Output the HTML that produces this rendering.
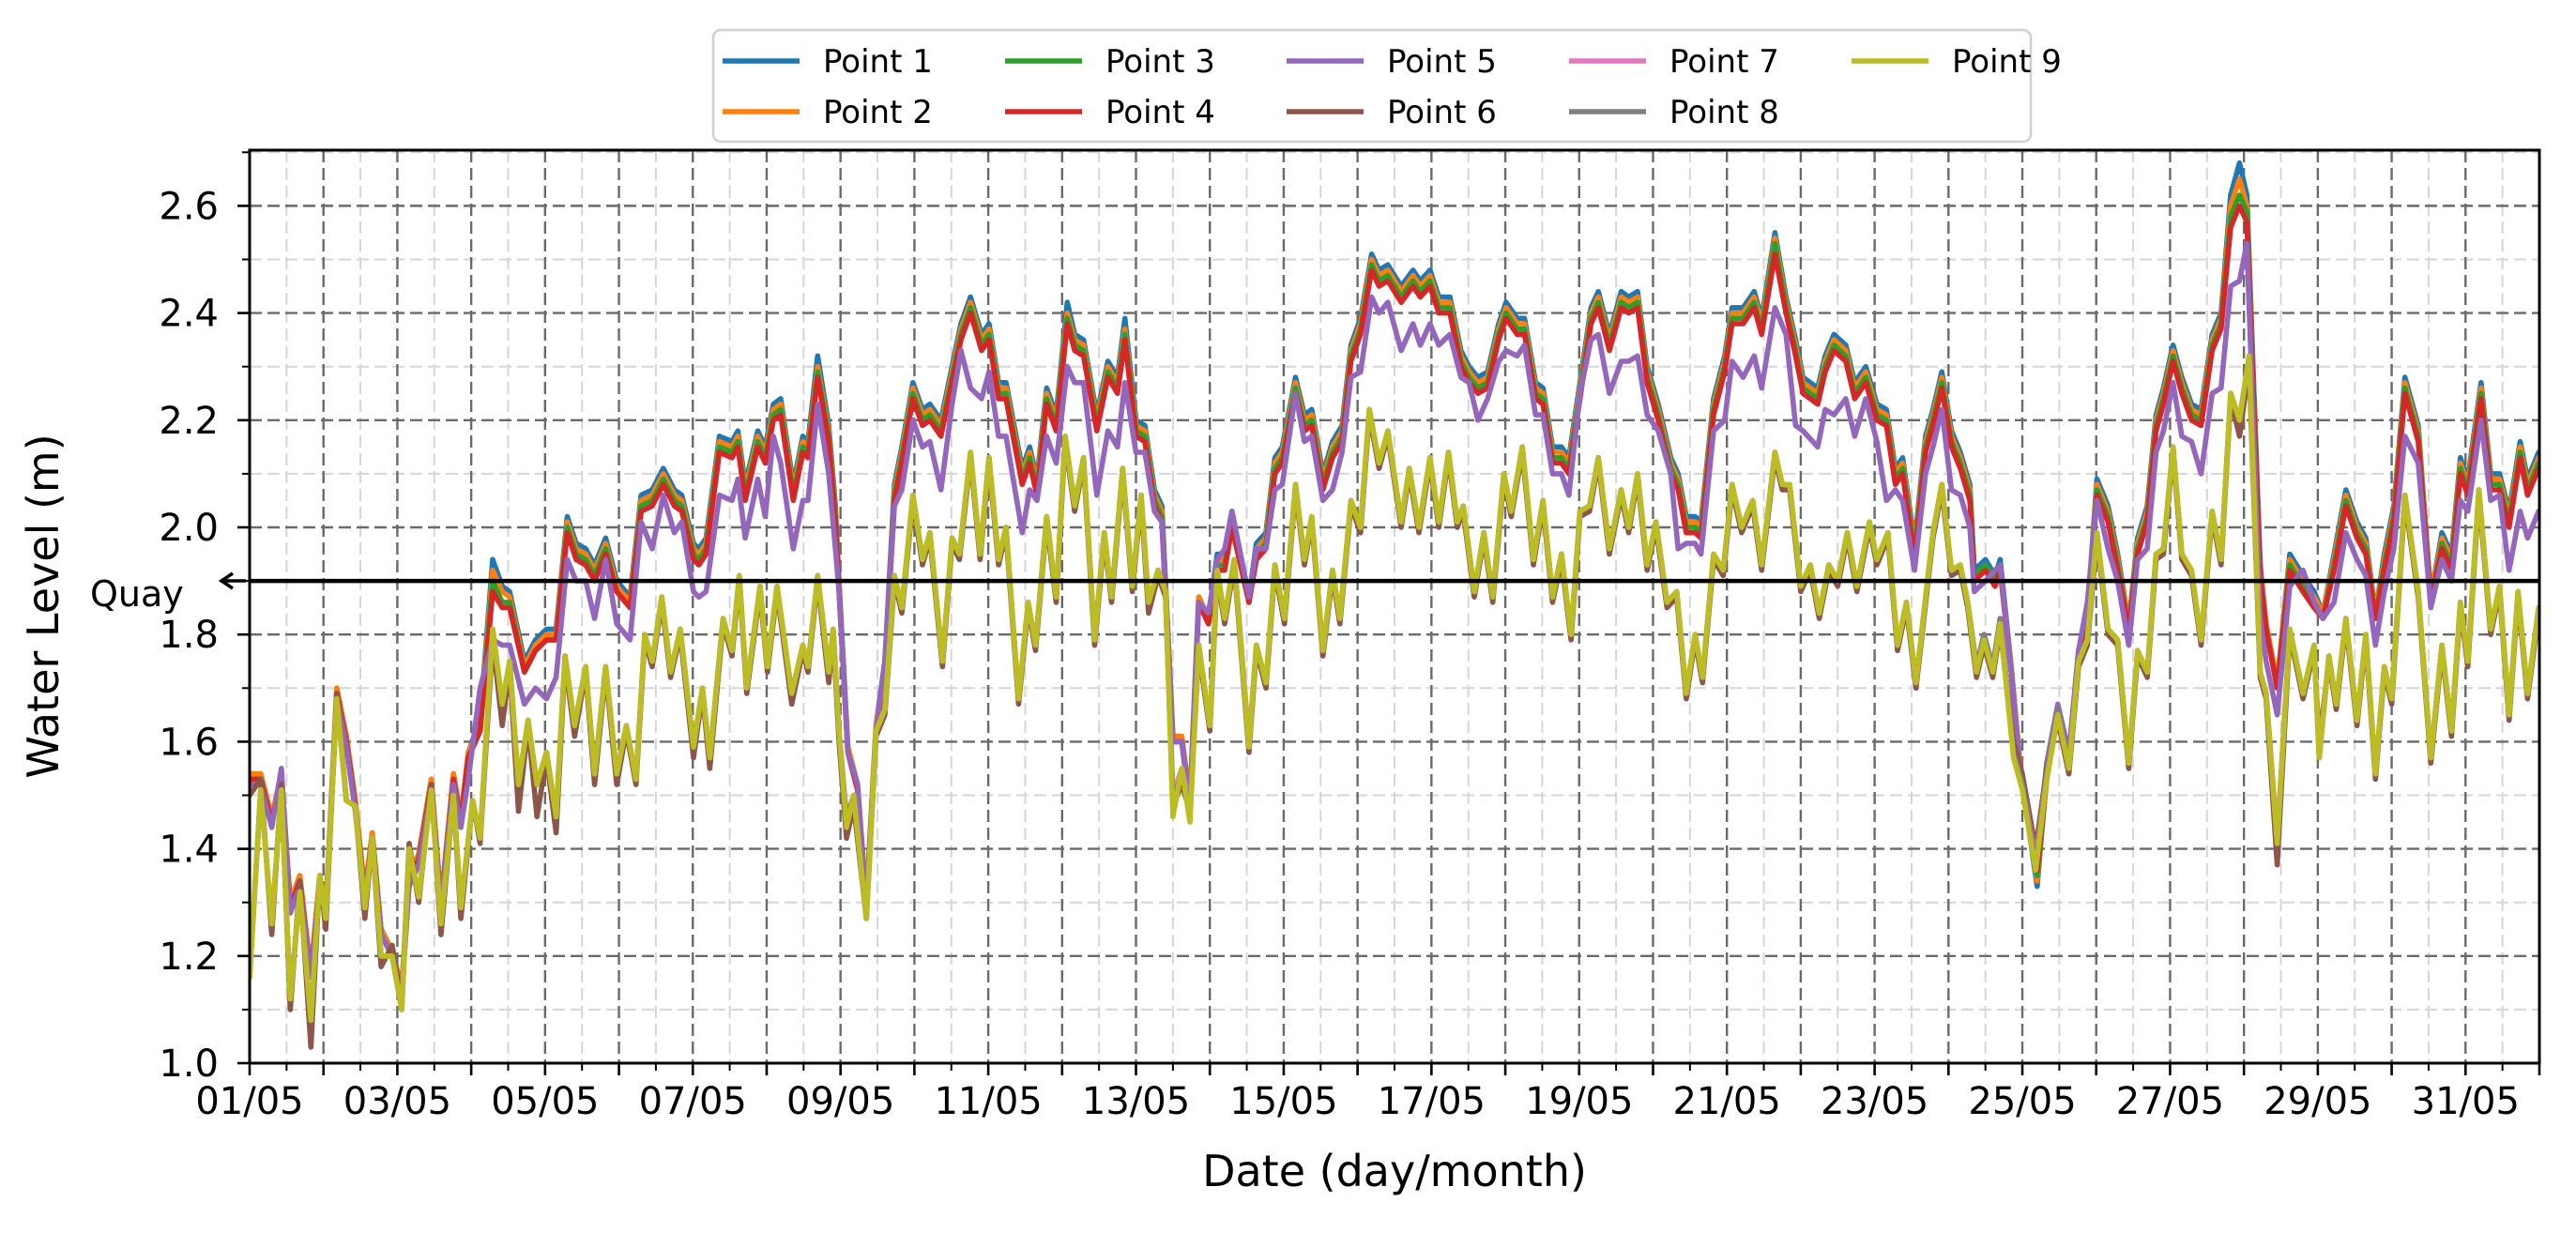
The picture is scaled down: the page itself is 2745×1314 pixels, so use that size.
<!DOCTYPE html>
<html><head><meta charset="utf-8"><title>Water Level chart</title>
<style>
html,body{margin:0;padding:0;background:#fff;}
svg{display:block;font-family:"DejaVu Sans","Liberation Sans",sans-serif;}
</style></head>
<body>
<svg id="chart" width="2745" height="1314" viewBox="0 0 2745 1314" xmlns="http://www.w3.org/2000/svg">
<rect x="0" y="0" width="2745" height="1314" fill="#fff"/>
<g id="grid"></g>
<g id="series"></g>
<line x1="266" x2="2706" y1="619" y2="619" stroke="#000" stroke-width="4.5" id="quayline"/>
<g id="axes"></g>
<text x="96" y="646" font-size="38">Quay</text>
<path id="quayarrow" d="M236 619 L262 619 M248 611 L236 619 L248 627" stroke="#000" stroke-width="3.5" fill="none"/>
<text x="1486" y="1264" font-size="46" text-anchor="middle">Date (day/month)</text>
<text transform="translate(62,646) rotate(-90)" font-size="46" text-anchor="middle">Water Level (m)</text>
<g id="legend">
<rect x="760" y="32" width="1404" height="119" rx="8" fill="#fff" fill-opacity="0.85" stroke="#d0d0d0" stroke-width="2.5"/>
</g>
</svg>
<script>
const NS="http://www.w3.org/2000/svg";
const seriesNames=["Point 1","Point 2","Point 3","Point 4","Point 5","Point 6","Point 7","Point 8","Point 9"];
const seriesColors=["#1f77b4","#ff7f0e","#2ca02c","#d62728","#9467bd","#8c564b","#e377c2","#7f7f7f","#bcbd22"];
const xTickLabels=["01/05","03/05","05/05","07/05","09/05","11/05","13/05","15/05","17/05","19/05","21/05","23/05","25/05","27/05","29/05","31/05"];
const xTickDays=[0,2,4,6,8,10,12,14,16,18,20,22,24,26,28,30];
const yTickLabels=["1.0","1.2","1.4","1.6","1.8","2.0","2.2","2.4","2.6"];
const yTickValues=[1.0,1.2,1.4,1.6,1.8,2.0,2.2,2.4,2.6];
const quayLevel=1.9;

const timesA=[0,.15,.30,.43,.55,.68,.83,.95,1.03,1.18,1.31,1.43,1.56,1.66,1.78,1.93,2.06,2.16,2.29,2.46,2.59,2.76,2.86,2.96,3.12,3.29,3.42,3.52,3.72,3.87,4.02,4.15,4.30,4.42,4.55,4.67,4.82,4.97,5.15,5.30,5.45,5.60,5.75,5.85,6.01,6.08,6.18,6.36,6.53,6.61,6.71,6.88,6.98,7.09,7.19,7.36,7.49,7.56,7.69,7.84,
7.93,7.98,8.10,8.23,8.35,8.48,8.60,8.73,8.83,8.98,9.11,9.21,9.36,9.51,9.63,9.76,9.91,10.01,10.14,10.24,10.46,10.56,10.66,10.79,10.92,11.07,11.17,11.29,11.47,11.62,11.75,11.85,12.00,12.12,12.25,12.35,12.50,12.62,12.73,12.85,12.98,13.10,13.20,13.30,13.53,13.63,13.76,13.88,13.98,14.16,14.28,14.38,14.53,14.66,14.79,14.91,15.04,15.19,15.29,15.41,15.59,
15.75,15.85,15.98,16.10,16.25,16.40,16.51,16.63,16.76,16.91,17.01,17.16,17.26,17.41,17.51,17.64,17.76,17.86,18.01,18.16,18.26,18.41,18.57,18.67,18.79,18.92,19.07,19.24,19.34,19.45,19.57,19.65,19.82,19.97,20.07,20.22,20.37,20.47,20.65,20.80,20.93,21.03,21.23,21.33,21.45,21.61,21.73,21.88,22.03,22.16,22.28,22.38,22.54,22.69,22.79,22.91,23.04,23.16,23.29,
23.35,23.50,23.63,23.70,23.85,23.98,24.20,24.33,24.48,24.63,24.76,24.88,25.01,25.16,25.29,25.44,25.56,25.69,25.81,25.91,26.04,26.16,26.29,26.42,26.57,26.69,26.82,26.94,27.04,27.22,27.30,27.45,27.62,27.80,27.95,28.07,28.22,28.38,28.53,28.65,28.78,28.90,29.03,29.18,29.36,29.53,29.68,29.81,29.93,30.03,30.21,30.34,30.46,30.59,30.74,30.84,30.99,31.0];

const point1=[1.54,1.54,1.46,1.54,1.30,1.35,1.17,1.35,1.28,1.70,1.61,1.49,1.32,1.43,1.25,1.21,1.14,1.35,1.39,1.53,1.30,1.54,1.46,1.58,1.64,1.94,1.89,1.88,1.75,1.79,1.81,1.81,2.02,1.97,1.96,1.93,1.98,1.90,1.87,2.06,2.07,2.11,2.07,2.06,1.97,1.96,1.98,2.17,2.16,2.18,2.08,2.18,2.15,2.23,2.24,2.08,2.17,2.16,2.32,2.19,
2.04,1.90,1.59,1.52,1.30,1.63,1.75,2.08,2.15,2.27,2.22,2.23,2.20,2.30,2.38,2.43,2.36,2.38,2.27,2.27,2.11,2.15,2.09,2.26,2.21,2.42,2.36,2.35,2.21,2.31,2.28,2.39,2.20,2.19,2.07,2.04,1.61,1.61,1.49,1.87,1.83,1.95,1.95,2.03,1.87,1.97,1.99,2.13,2.15,2.28,2.21,2.22,2.10,2.16,2.19,2.34,2.39,2.51,2.48,2.49,2.45,
2.48,2.46,2.48,2.43,2.43,2.33,2.30,2.28,2.29,2.38,2.42,2.39,2.39,2.27,2.26,2.15,2.15,2.13,2.27,2.41,2.44,2.36,2.44,2.43,2.44,2.30,2.23,2.13,2.10,2.02,2.02,2.01,2.24,2.32,2.41,2.41,2.44,2.39,2.55,2.43,2.35,2.28,2.26,2.32,2.36,2.34,2.27,2.30,2.23,2.22,2.11,2.13,1.97,2.17,2.22,2.29,2.18,2.14,2.08,
1.92,1.94,1.91,1.94,1.74,1.54,1.33,1.54,1.66,1.57,1.77,1.84,2.09,2.04,1.95,1.82,1.98,2.04,2.21,2.26,2.34,2.28,2.23,2.22,2.36,2.40,2.62,2.68,2.62,1.93,1.82,1.71,1.95,1.91,1.88,1.84,1.95,2.07,2.01,1.98,1.84,1.95,2.04,2.28,2.19,1.87,1.99,1.95,2.13,2.09,2.27,2.10,2.10,2.03,2.16,2.09,2.14,2.13];

const point2=[1.54,1.54,1.46,1.54,1.30,1.35,1.17,1.35,1.28,1.70,1.61,1.49,1.32,1.43,1.25,1.21,1.14,1.35,1.39,1.53,1.30,1.54,1.46,1.58,1.63,1.92,1.88,1.87,1.74,1.78,1.80,1.80,2.01,1.96,1.95,1.92,1.97,1.89,1.86,2.05,2.06,2.10,2.06,2.05,1.96,1.95,1.97,2.16,2.15,2.17,2.07,2.17,2.14,2.22,2.23,2.07,2.16,2.15,2.30,2.18,
2.03,1.89,1.59,1.52,1.30,1.63,1.74,2.07,2.14,2.26,2.21,2.22,2.19,2.29,2.37,2.42,2.35,2.37,2.26,2.26,2.10,2.14,2.08,2.25,2.20,2.40,2.35,2.34,2.20,2.30,2.27,2.37,2.19,2.18,2.06,2.03,1.61,1.61,1.49,1.87,1.83,1.94,1.94,2.02,1.87,1.96,1.98,2.12,2.14,2.27,2.20,2.21,2.09,2.15,2.18,2.33,2.38,2.50,2.47,2.48,2.44,
2.47,2.45,2.47,2.42,2.42,2.32,2.29,2.27,2.28,2.37,2.41,2.38,2.38,2.26,2.25,2.14,2.14,2.12,2.26,2.40,2.43,2.35,2.43,2.42,2.43,2.29,2.22,2.12,2.09,2.01,2.01,2.00,2.23,2.31,2.40,2.40,2.43,2.38,2.54,2.42,2.34,2.27,2.25,2.31,2.35,2.33,2.26,2.29,2.22,2.21,2.10,2.12,1.96,2.16,2.21,2.28,2.17,2.13,2.07,
1.91,1.93,1.90,1.93,1.74,1.54,1.34,1.54,1.66,1.57,1.77,1.84,2.08,2.03,1.94,1.82,1.97,2.03,2.20,2.25,2.33,2.27,2.22,2.21,2.35,2.39,2.60,2.65,2.60,1.92,1.82,1.71,1.94,1.90,1.87,1.84,1.94,2.06,2.00,1.97,1.84,1.94,2.03,2.27,2.18,1.87,1.98,1.94,2.12,2.08,2.26,2.09,2.09,2.02,2.15,2.08,2.13,2.12];

const point3=[1.53,1.53,1.45,1.53,1.29,1.34,1.16,1.34,1.27,1.69,1.60,1.48,1.31,1.42,1.24,1.20,1.13,1.34,1.38,1.52,1.29,1.53,1.45,1.57,1.62,1.90,1.86,1.86,1.73,1.77,1.79,1.79,2.00,1.95,1.94,1.91,1.96,1.88,1.85,2.04,2.05,2.09,2.05,2.04,1.95,1.94,1.96,2.15,2.14,2.16,2.06,2.16,2.13,2.21,2.22,2.06,2.15,2.14,2.29,2.17,
2.02,1.88,1.58,1.51,1.29,1.62,1.73,2.06,2.13,2.25,2.20,2.21,2.18,2.28,2.36,2.41,2.34,2.36,2.25,2.25,2.09,2.13,2.07,2.24,2.19,2.39,2.34,2.33,2.19,2.29,2.26,2.36,2.18,2.17,2.05,2.02,1.60,1.60,1.48,1.86,1.82,1.93,1.93,2.01,1.86,1.95,1.97,2.11,2.13,2.26,2.19,2.20,2.08,2.14,2.17,2.32,2.37,2.49,2.46,2.47,2.43,
2.46,2.44,2.46,2.41,2.41,2.31,2.28,2.26,2.27,2.36,2.40,2.37,2.37,2.25,2.24,2.13,2.13,2.11,2.25,2.39,2.42,2.34,2.42,2.41,2.42,2.28,2.21,2.11,2.08,2.00,2.00,1.99,2.22,2.30,2.39,2.39,2.42,2.37,2.53,2.41,2.33,2.26,2.24,2.30,2.34,2.32,2.25,2.28,2.21,2.20,2.09,2.11,1.95,2.15,2.20,2.27,2.16,2.12,2.06,
1.91,1.93,1.90,1.93,1.73,1.53,1.35,1.53,1.65,1.56,1.76,1.83,2.07,2.02,1.93,1.81,1.96,2.02,2.19,2.24,2.32,2.26,2.21,2.20,2.34,2.38,2.58,2.62,2.59,1.91,1.81,1.70,1.93,1.89,1.86,1.83,1.93,2.05,1.99,1.96,1.83,1.93,2.02,2.26,2.17,1.86,1.97,1.93,2.11,2.07,2.25,2.08,2.08,2.01,2.14,2.07,2.12,2.11];

const point4=[1.53,1.53,1.45,1.53,1.29,1.34,1.16,1.34,1.27,1.69,1.60,1.48,1.31,1.42,1.24,1.20,1.13,1.34,1.38,1.52,1.29,1.53,1.45,1.57,1.62,1.88,1.85,1.85,1.73,1.77,1.79,1.79,1.99,1.94,1.93,1.90,1.95,1.88,1.85,2.03,2.04,2.08,2.04,2.03,1.94,1.93,1.95,2.14,2.13,2.15,2.05,2.15,2.12,2.20,2.21,2.05,2.14,2.13,2.28,2.16,
2.01,1.88,1.58,1.51,1.29,1.62,1.73,2.05,2.12,2.24,2.19,2.20,2.17,2.27,2.35,2.40,2.33,2.35,2.24,2.24,2.08,2.12,2.06,2.23,2.18,2.38,2.33,2.32,2.18,2.28,2.25,2.35,2.17,2.16,2.04,2.01,1.60,1.60,1.48,1.86,1.82,1.92,1.92,2.00,1.86,1.94,1.96,2.10,2.12,2.25,2.18,2.19,2.07,2.13,2.16,2.31,2.36,2.48,2.45,2.46,2.42,
2.45,2.43,2.45,2.40,2.40,2.30,2.27,2.25,2.26,2.35,2.39,2.36,2.36,2.24,2.23,2.12,2.12,2.10,2.24,2.38,2.41,2.33,2.41,2.40,2.41,2.27,2.20,2.10,2.07,1.99,1.99,1.98,2.21,2.29,2.38,2.38,2.41,2.36,2.51,2.40,2.32,2.25,2.23,2.29,2.33,2.31,2.24,2.27,2.20,2.19,2.08,2.10,1.94,2.14,2.19,2.26,2.15,2.11,2.05,
1.90,1.92,1.89,1.92,1.73,1.53,1.36,1.53,1.65,1.56,1.76,1.83,2.06,2.01,1.92,1.81,1.95,2.01,2.18,2.23,2.31,2.25,2.20,2.19,2.33,2.37,2.56,2.60,2.57,1.91,1.81,1.70,1.92,1.88,1.85,1.83,1.92,2.04,1.98,1.95,1.83,1.92,2.01,2.25,2.16,1.86,1.96,1.92,2.10,2.06,2.24,2.07,2.07,2.00,2.13,2.06,2.11,2.10];

const point5=[1.52,1.52,1.44,1.55,1.28,1.33,1.16,1.33,1.27,1.68,1.59,1.47,1.31,1.41,1.24,1.20,1.13,1.33,1.37,1.51,1.29,1.52,1.44,1.53,1.70,1.79,1.78,1.78,1.67,1.70,1.68,1.72,1.94,1.90,1.90,1.83,1.94,1.82,1.79,2.01,1.96,2.06,1.99,2.01,1.88,1.87,1.88,2.06,2.05,2.09,1.98,2.09,2.02,2.17,2.12,1.96,2.05,2.05,2.23,2.10,
1.96,1.88,1.58,1.52,1.29,1.62,1.75,2.04,2.07,2.20,2.15,2.16,2.07,2.23,2.33,2.26,2.24,2.29,2.17,2.17,1.99,2.07,2.05,2.17,2.12,2.30,2.27,2.27,2.06,2.18,2.15,2.27,2.14,2.14,2.03,2.01,1.60,1.60,1.48,1.86,1.84,1.94,1.96,2.03,1.87,1.96,1.96,2.07,2.08,2.25,2.16,2.17,2.05,2.07,2.14,2.28,2.29,2.43,2.40,2.42,2.33,
2.38,2.34,2.38,2.34,2.36,2.28,2.27,2.20,2.24,2.31,2.33,2.32,2.34,2.21,2.21,2.10,2.10,2.06,2.25,2.35,2.36,2.25,2.31,2.31,2.32,2.21,2.18,2.10,1.96,1.97,1.97,1.95,2.18,2.20,2.31,2.28,2.32,2.26,2.41,2.36,2.19,2.18,2.15,2.22,2.21,2.24,2.17,2.24,2.16,2.05,2.07,2.05,1.92,2.10,2.15,2.22,2.07,2.06,2.00,
1.88,1.90,1.92,1.93,1.73,1.53,1.39,1.56,1.67,1.58,1.77,1.86,2.05,1.96,1.90,1.78,1.94,1.96,2.14,2.18,2.27,2.17,2.16,2.10,2.25,2.26,2.45,2.46,2.53,1.83,1.75,1.65,1.89,1.92,1.86,1.83,1.86,1.99,1.94,1.91,1.78,1.88,1.96,2.17,2.12,1.85,1.94,1.90,2.05,2.03,2.20,2.05,2.06,1.92,2.03,1.98,2.03,2.03];

const timesB=[0,.15,.30,.43,.55,.68,.83,.95,1.03,1.18,1.31,1.43,1.56,1.66,1.78,1.93,2.06,2.16,2.29,2.46,2.59,2.76,2.86,3.02,3.12,3.29,3.42,3.52,3.64,3.77,3.89,4.02,4.15,4.27,4.40,4.55,4.67,4.82,4.97,5.10,5.23,5.35,5.45,5.58,5.70,5.83,6.01,6.13,6.23,6.41,6.53,6.63,6.73,6.91,7.01,7.14,7.34,7.49,7.56,7.69,7.84,
7.90,7.98,8.08,8.18,8.35,8.48,8.60,8.73,8.83,8.98,9.11,9.21,9.38,9.51,9.61,9.76,9.89,10.01,10.14,10.24,10.41,10.54,10.64,10.79,10.92,11.04,11.17,11.29,11.44,11.57,11.67,11.82,11.95,12.07,12.17,12.30,12.40,12.50,12.62,12.73,12.85,13.00,13.10,13.20,13.33,13.53,13.63,13.76,13.88,14.01,14.16,14.28,14.38,14.53,14.66,14.76,14.91,15.04,15.16,15.29,15.41,15.59,
15.70,15.83,15.98,16.10,16.23,16.35,16.43,16.58,16.71,16.83,16.98,17.08,17.23,17.38,17.51,17.64,17.76,17.89,18.01,18.14,18.26,18.41,18.57,18.67,18.79,18.92,19.04,19.19,19.32,19.45,19.57,19.67,19.82,19.95,20.07,20.20,20.35,20.47,20.65,20.75,20.85,21.00,21.13,21.25,21.38,21.50,21.63,21.76,21.93,22.03,22.18,22.31,22.43,22.56,22.79,22.91,23.04,23.16,23.26,
23.38,23.48,23.60,23.70,23.88,24.00,24.18,24.33,24.48,24.63,24.76,24.88,25.01,25.16,25.29,25.44,25.56,25.69,25.81,25.91,26.04,26.16,26.29,26.42,26.57,26.69,26.82,26.94,27.07,27.22,27.30,27.45,27.62,27.80,27.95,28.02,28.15,28.25,28.38,28.53,28.65,28.78,28.90,29.00,29.18,29.36,29.53,29.68,29.81,29.93,30.03,30.18,30.34,30.46,30.59,30.71,30.84,30.99,31.0];

const point6=[1.50,1.53,1.24,1.52,1.10,1.34,1.03,1.35,1.25,1.69,1.49,1.48,1.27,1.42,1.18,1.22,1.11,1.41,1.30,1.52,1.24,1.50,1.27,1.49,1.41,1.79,1.63,1.74,1.47,1.63,1.46,1.57,1.43,1.75,1.61,1.73,1.52,1.73,1.52,1.62,1.52,1.79,1.74,1.86,1.72,1.80,1.57,1.69,1.55,1.82,1.76,1.90,1.69,1.88,1.73,1.88,1.67,1.77,1.73,1.90,1.71,
1.80,1.60,1.42,1.48,1.27,1.61,1.65,1.90,1.84,2.05,1.93,1.98,1.74,1.97,1.94,2.13,1.94,2.12,1.93,1.99,1.67,1.85,1.77,2.01,1.86,2.16,2.03,2.12,1.78,1.98,1.86,2.10,1.88,2.05,1.84,1.91,1.87,1.48,1.52,1.47,1.77,1.62,1.91,1.82,1.93,1.58,1.77,1.70,1.92,1.82,2.07,1.93,2.01,1.76,1.91,1.82,2.04,1.99,2.21,2.11,2.17,2.00,
2.10,1.99,2.12,2.00,2.13,2.00,2.03,1.87,1.98,1.86,2.09,2.02,2.14,1.93,2.04,1.86,1.94,1.79,2.02,2.03,2.12,1.95,2.06,1.99,2.09,1.92,2.00,1.85,1.87,1.68,1.79,1.71,1.94,1.91,2.07,1.99,2.04,1.92,2.13,2.07,2.07,1.88,1.92,1.83,1.92,1.89,1.98,1.88,2.00,1.93,1.98,1.77,1.85,1.70,1.98,2.07,1.91,1.92,1.85,
1.72,1.78,1.72,1.81,1.60,1.54,1.40,1.55,1.64,1.54,1.74,1.78,1.98,1.80,1.78,1.55,1.76,1.72,1.94,1.95,2.14,1.94,1.91,1.78,2.02,1.93,2.24,2.17,2.30,1.72,1.68,1.37,1.80,1.68,1.77,1.60,1.75,1.66,1.82,1.63,1.79,1.53,1.73,1.67,2.05,1.87,1.56,1.77,1.61,1.85,1.74,2.06,1.80,1.88,1.64,1.87,1.68,1.84,1.82];

const point7=[1.16,1.51,1.26,1.51,1.12,1.32,1.08,1.35,1.27,1.68,1.49,1.48,1.29,1.42,1.20,1.20,1.10,1.40,1.31,1.51,1.26,1.50,1.29,1.49,1.42,1.81,1.67,1.75,1.52,1.64,1.52,1.58,1.46,1.76,1.63,1.74,1.54,1.74,1.54,1.63,1.53,1.80,1.75,1.87,1.73,1.81,1.59,1.70,1.57,1.83,1.77,1.91,1.70,1.89,1.74,1.89,1.69,1.78,1.74,1.91,1.73,
1.81,1.62,1.46,1.50,1.27,1.62,1.66,1.91,1.85,2.06,1.94,1.99,1.75,1.98,1.95,2.14,1.95,2.13,1.94,2.00,1.68,1.86,1.78,2.02,1.87,2.17,2.04,2.13,1.79,1.99,1.87,2.11,1.89,2.06,1.86,1.92,1.88,1.50,1.55,1.48,1.78,1.63,1.92,1.83,1.94,1.60,1.78,1.71,1.93,1.83,2.08,1.94,2.02,1.77,1.92,1.83,2.05,2.00,2.22,2.12,2.18,2.01,
2.11,2.00,2.13,2.01,2.14,2.01,2.04,1.88,1.99,1.87,2.10,2.03,2.15,1.94,2.05,1.87,1.95,1.80,2.03,2.04,2.13,1.96,2.07,2.00,2.10,1.93,2.01,1.86,1.88,1.69,1.80,1.72,1.95,1.92,2.08,2.00,2.05,1.93,2.14,2.08,2.08,1.89,1.93,1.84,1.93,1.90,1.99,1.89,2.01,1.94,1.99,1.78,1.86,1.71,1.99,2.08,1.92,1.93,1.86,
1.74,1.80,1.74,1.83,1.58,1.52,1.38,1.54,1.66,1.55,1.75,1.79,1.99,1.81,1.79,1.56,1.77,1.73,1.95,1.96,2.15,1.95,1.92,1.79,2.03,1.94,2.25,2.20,2.32,1.73,1.69,1.42,1.81,1.69,1.78,1.57,1.76,1.67,1.83,1.64,1.80,1.54,1.74,1.68,2.06,1.88,1.57,1.78,1.62,1.86,1.75,2.07,1.81,1.89,1.65,1.88,1.69,1.85,1.83];

const point8=[1.16,1.51,1.26,1.51,1.12,1.32,1.08,1.35,1.27,1.68,1.49,1.48,1.29,1.42,1.20,1.20,1.10,1.40,1.31,1.51,1.26,1.50,1.29,1.49,1.42,1.81,1.67,1.75,1.52,1.64,1.52,1.58,1.46,1.76,1.63,1.74,1.54,1.74,1.54,1.63,1.53,1.80,1.75,1.87,1.73,1.81,1.59,1.70,1.57,1.83,1.77,1.91,1.70,1.89,1.74,1.89,1.69,1.78,1.74,1.91,1.73,
1.81,1.62,1.45,1.50,1.27,1.62,1.66,1.91,1.85,2.06,1.94,1.99,1.75,1.98,1.95,2.14,1.95,2.13,1.94,2.00,1.68,1.86,1.78,2.02,1.87,2.17,2.04,2.13,1.79,1.99,1.87,2.11,1.89,2.06,1.86,1.92,1.88,1.49,1.54,1.47,1.78,1.63,1.92,1.83,1.94,1.59,1.78,1.71,1.93,1.83,2.08,1.94,2.02,1.77,1.92,1.83,2.05,2.00,2.22,2.12,2.18,2.01,
2.11,2.00,2.13,2.01,2.14,2.01,2.04,1.88,1.99,1.87,2.10,2.03,2.15,1.94,2.05,1.87,1.95,1.80,2.03,2.04,2.13,1.96,2.07,2.00,2.10,1.93,2.01,1.86,1.88,1.69,1.80,1.72,1.95,1.92,2.08,2.00,2.05,1.93,2.14,2.08,2.08,1.89,1.93,1.84,1.93,1.90,1.99,1.89,2.01,1.94,1.99,1.78,1.86,1.71,1.99,2.08,1.92,1.93,1.86,
1.74,1.80,1.74,1.83,1.58,1.52,1.37,1.54,1.66,1.55,1.75,1.79,1.99,1.81,1.79,1.56,1.77,1.73,1.95,1.96,2.15,1.95,1.92,1.79,2.03,1.94,2.25,2.20,2.32,1.73,1.69,1.41,1.81,1.69,1.78,1.57,1.76,1.67,1.83,1.64,1.80,1.54,1.74,1.68,2.06,1.88,1.57,1.78,1.62,1.86,1.75,2.07,1.81,1.89,1.65,1.88,1.69,1.85,1.83];

const point9=[1.16,1.51,1.26,1.51,1.12,1.32,1.08,1.35,1.27,1.68,1.49,1.48,1.29,1.42,1.20,1.20,1.10,1.40,1.31,1.51,1.26,1.50,1.29,1.49,1.42,1.81,1.67,1.75,1.52,1.64,1.52,1.58,1.46,1.76,1.63,1.74,1.54,1.74,1.54,1.63,1.53,1.80,1.75,1.87,1.73,1.81,1.59,1.70,1.57,1.83,1.77,1.91,1.70,1.89,1.74,1.89,1.69,1.78,1.74,1.91,1.73,
1.81,1.62,1.44,1.50,1.27,1.62,1.66,1.91,1.85,2.06,1.94,1.99,1.75,1.98,1.95,2.14,1.95,2.13,1.94,2.00,1.68,1.86,1.78,2.02,1.87,2.17,2.04,2.13,1.79,1.99,1.87,2.11,1.89,2.06,1.86,1.92,1.88,1.46,1.55,1.45,1.78,1.63,1.92,1.83,1.94,1.59,1.78,1.71,1.93,1.83,2.08,1.94,2.02,1.77,1.92,1.83,2.05,2.00,2.22,2.12,2.18,2.01,
2.11,2.00,2.13,2.01,2.14,2.01,2.04,1.88,1.99,1.87,2.10,2.03,2.15,1.94,2.05,1.87,1.95,1.80,2.03,2.04,2.13,1.96,2.07,2.00,2.10,1.93,2.01,1.86,1.88,1.69,1.80,1.72,1.95,1.92,2.08,2.00,2.05,1.93,2.14,2.08,2.08,1.89,1.93,1.84,1.93,1.90,1.99,1.89,2.01,1.94,1.99,1.78,1.86,1.71,1.99,2.08,1.92,1.93,1.86,
1.73,1.79,1.73,1.82,1.57,1.51,1.36,1.53,1.65,1.55,1.75,1.79,1.99,1.81,1.79,1.56,1.77,1.73,1.95,1.96,2.15,1.95,1.92,1.79,2.03,1.94,2.25,2.20,2.32,1.73,1.69,1.41,1.81,1.69,1.78,1.57,1.76,1.67,1.83,1.64,1.80,1.54,1.74,1.68,2.06,1.88,1.57,1.78,1.62,1.86,1.75,2.07,1.81,1.89,1.65,1.88,1.69,1.85,1.83];

// ---- layout ----
const PL=266,PR=2706,PT=160,PB=1133;
const X_MIN=0,X_MAX=31,Y_MIN=1.0,Y_MAX=2.704;
function xScale(t){return PL+(t-X_MIN)/(X_MAX-X_MIN)*(PR-PL);}
function yScale(v){return PB-(v-Y_MIN)/(Y_MAX-Y_MIN)*(PB-PT);}

function mk(tag,attrs,parent){const e=document.createElementNS(NS,tag);for(const k in attrs)e.setAttribute(k,attrs[k]);parent.appendChild(e);return e;}

const grid=document.getElementById('grid');
const axes=document.getElementById('axes');
const seriesG=document.getElementById('series');

for(let i=0;i<=62;i++){
  const t=i*0.5; if(i%2===0) continue;
  const x=xScale(t);
  const l=mk('line',{x1:x,x2:x,y1:PT,y2:PB,stroke:'#d6d6d6','stroke-width':2,'stroke-dasharray':'13,6'},grid);
  
  
}
for(let i=1;i<=17;i++){
  const v=1.0+i*0.1; if(i%2===0) continue;
  const y=yScale(v);
  const l=mk('line',{x1:PL,x2:PR,y1:y,y2:y,stroke:'#d6d6d6','stroke-width':2,'stroke-dasharray':'13,6'},grid);
  
  
}
for(let d=1;d<31;d++){
  const x=xScale(d);
  const l=mk('line',{x1:x,x2:x,y1:PT,y2:PB,stroke:'#6a6a6a','stroke-width':2.4,'stroke-dasharray':'13,6'},grid);
  
  
}
for(let i=1;i<yTickValues.length;i++){
  const y=yScale(yTickValues[i]);
  const l=mk('line',{x1:PL,x2:PR,y1:y,y2:y,stroke:'#6a6a6a','stroke-width':2.4,'stroke-dasharray':'13,6'},grid);
  
  
}

const seriesData=[point1,point2,point3,point4,point5,point6,point7,point8,point9];
const seriesTimes=[timesA,timesA,timesA,timesA,timesA,timesB,timesB,timesB,timesB];
const clip=mk('clipPath',{id:'plotclip'},mk('defs',{},document.getElementById('chart')));
mk('rect',{x:PL,y:PT,width:PR-PL,height:PB-PT},clip);
seriesData.forEach((vals,si)=>{
  const ts=seriesTimes[si];
  const n=Math.min(ts.length,vals.length);
  let d='';
  for(let i=0;i<n;i++){d+=(i?'L':'M')+xScale(ts[i]).toFixed(1)+' '+yScale(vals[i]).toFixed(1);}
  const p=mk('path',{d:d,fill:'none',stroke:seriesColors[si],'stroke-width':5.6,'stroke-linejoin':'round','stroke-linecap':'round','clip-path':'url(#plotclip)'},seriesG);
  
  
});

const qy=yScale(quayLevel);
const ql=document.getElementById('quayline'); ql.setAttribute('y1',qy); ql.setAttribute('y2',qy);

const frame=mk('rect',{x:PL,y:PT,width:PR-PL,height:PB-PT,fill:'none',stroke:'#000','stroke-width':3},axes);



for(let i=0;i<=62;i++){
  const t=i*0.5; const x=xScale(t); const major=(i%2===0);
  const tk=mk('line',{x1:x,x2:x,y1:PB,y2:PB+(major?13:8),stroke:'#000','stroke-width':major?2.6:2},axes);
  
  
}
xTickDays.forEach((d,i)=>{
  const tx=mk('text',{x:xScale(d),y:PB+54,'font-size':40,'text-anchor':'middle'},axes);
  tx.textContent=xTickLabels[i];
  
  
});
for(let i=0;i<=17;i++){
  const v=1.0+i*0.1; const y=yScale(v); const major=(i%2===0);
  const tk=mk('line',{x1:PL-(major?13:8),x2:PL,y1:y,y2:y,stroke:'#000','stroke-width':major?2.6:2},axes);
  
  
}
yTickValues.forEach((v,i)=>{
  const tx=mk('text',{x:PL-33,y:yScale(v)+14,'font-size':40,'text-anchor':'end'},axes);
  tx.textContent=yTickLabels[i];
  
  
});

const legend=document.getElementById('legend');
const colX=[770,1071,1371,1672,1973];
const rowY=[65,119];
seriesNames.forEach((name,i)=>{
  const c=Math.floor(i/2), r=i%2;
  const g=mk('g',{},legend);
  
  
  const ln=mk('line',{x1:colX[c],x2:colX[c]+82,y1:rowY[r],y2:rowY[r],stroke:seriesColors[i],'stroke-width':5.6},g);
  
  
  const tx=mk('text',{x:colX[c]+107,y:rowY[r]+12,'font-size':34},g);
  tx.textContent=name;
  
  
});
</script>
</body></html>
